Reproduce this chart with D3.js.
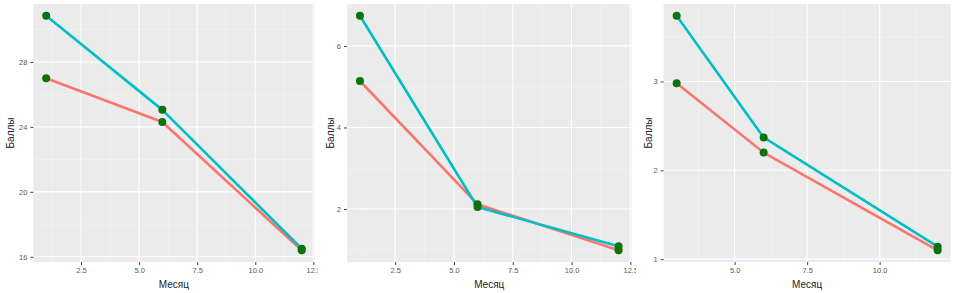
<!DOCTYPE html>
<html>
<head>
<meta charset="utf-8">
<script src="https://cdn.jsdelivr.net/npm/d3@7"></script>
<style>
  body { margin: 0; background: #fff; }
  svg { display: block; font-family: "Liberation Sans", Arial, sans-serif; }
  .tick text { fill: #595959; font-size: 7.5px; }
  .tick line { stroke: #444; }
  .title { fill: #222; font-size: 10px; }
</style>
</head>
<body>
<svg width="955" height="293"></svg>
<script>
// months per panel
const monthsA = [1, 6, 12];
const monthsB = [1, 6, 12];
const monthsC = [3, 6, 12];

// scores (red / cyan series)
const redA = [27.0, 24.3, 16.4];
const cyanA = [30.85, 25.05, 16.5];
const redB = [5.14, 2.12, 0.99];
const cyanB = [6.74, 2.05, 1.09];
const redC = [2.98, 2.20, 1.10];
const cyanC = [3.74, 2.37, 1.14];

// tick labels
const xTicksA = [2.5, 5, 7.5, 10, 12.5];
const xTicksB = [2.5, 5, 7.5, 10, 12.5];
const xTicksC = [5, 7.5, 10];
const yTicksA = [16, 20, 24, 28];
const yTicksB = [2, 4, 6];
const yTicksC = [1, 2, 3];

const xTitle = "Месяц";
const yTitle = "Баллы";

let panels = [
  {off: 0, left: 33.4, right: 314.5, titleX: 10, months: monthsA, red: redA, cyan: cyanA, xt: xTicksA, yt: yTicksA},
  {off: 318, left: 29, right: 313.5, titleX: 12, months: monthsB, red: redB, cyan: cyanB, xt: xTicksB, yt: yTicksB},
  {off: 636, left: 27.6, right: 314.7, titleX: 12, months: monthsC, red: redC, cyan: cyanC, xt: xTicksC, yt: yTicksC}
];

let plotTop = 4, plotBottom = 262;
let svg = d3.select("svg");

function expand(ext) {
  let pad = (ext[1] - ext[0]) * 0.05;
  return [ext[0] - pad, ext[1] + pad];
}

function midpoints(ticks, dom) {
  let step = ticks[1] - ticks[0];
  let out = [];
  for (let v = ticks[0] - step / 2; v <= dom[1]; v += step) {
    if (v >= dom[0]) out.push(v);
  }
  return out;
}

panels.forEach((p, i) => {
  svg.append("clipPath").attr("id", "clip" + i)
    .append("rect").attr("x", 0).attr("y", 0).attr("width", i < 2 ? 318 : 319).attr("height", 293);

  let g = svg.append("g")
      .attr("transform", "translate(" + p.off + ",0)")
      .attr("clip-path", "url(#clip" + i + ")");

  let x = d3.scaleLinear().domain(expand(d3.extent(p.months))).range([p.left, p.right]);
  let y = d3.scaleLinear().domain(expand(d3.extent(p.red.concat(p.cyan)))).range([plotBottom, plotTop]);

  g.append("rect")
    .attr("x", p.left).attr("y", plotTop)
    .attr("width", p.right - p.left).attr("height", plotBottom - plotTop)
    .attr("fill", "#ebebeb");

  // minor grid
  g.selectAll(".minx").data(midpoints(p.xt, x.domain())).enter().append("line")
    .attr("x1", d => x(d)).attr("x2", d => x(d)).attr("y1", plotTop).attr("y2", plotBottom)
    .attr("stroke", "#f5f5f5").attr("stroke-width", 0.6);
  g.selectAll(".miny").data(midpoints(p.yt, y.domain())).enter().append("line")
    .attr("y1", d => y(d)).attr("y2", d => y(d)).attr("x1", p.left).attr("x2", p.right)
    .attr("stroke", "#f5f5f5").attr("stroke-width", 0.6);

  // major grid
  g.selectAll(".majx").data(p.xt.filter(d => d <= x.domain()[1])).enter().append("line")
    .attr("x1", d => x(d)).attr("x2", d => x(d)).attr("y1", plotTop).attr("y2", plotBottom)
    .attr("stroke", "#fff").attr("stroke-width", 1.1);
  g.selectAll(".majy").data(p.yt).enter().append("line")
    .attr("y1", d => y(d)).attr("y2", d => y(d)).attr("x1", p.left).attr("x2", p.right)
    .attr("stroke", "#fff").attr("stroke-width", 1.1);

  // axes
  let ax = g.append("g")
      .attr("transform", "translate(0," + plotBottom + ")")
      .call(d3.axisBottom(x).tickValues(p.xt).tickFormat(d3.format(".1f")).tickSize(3).tickPadding(3));
  ax.select(".domain").remove();

  let ay = g.append("g")
      .attr("transform", "translate(" + p.left + ",0)")
      .call(d3.axisLeft(y).tickValues(p.yt).tickFormat(d3.format("d")).tickSize(3).tickPadding(3));
  ay.select(".domain").remove();

  g.append("text")
    .attr("class", "title")
    .attr("x", (p.left + p.right) / 2)
    .attr("y", 288)
    .attr("text-anchor", "middle")
    .text(xTitle);

  g.append("text")
    .attr("class", "title")
    .attr("transform", "translate(" + (p.titleX + 3.5) + "," + ((plotTop + plotBottom) / 2) + ") rotate(-90)")
    .attr("text-anchor", "middle")
    .text(yTitle);

  let line = d3.line().x(d => x(d[0])).y(d => y(d[1]));

  [["red", "#f8766d"], ["cyan", "#00bfc4"]].forEach(([key, col]) => {
    let pts = p.months.map((m, j) => [m, p[key][j]]);
    g.append("path")
      .datum(pts)
      .attr("d", line)
      .attr("fill", "none")
      .attr("stroke", col)
      .attr("stroke-width", 2.6)
      .attr("stroke-linejoin", "round");
  });

  let allPts = p.months.map((m, j) => [m, p.red[j]]).concat(p.months.map((m, j) => [m, p.cyan[j]]));
  g.selectAll(".point").data(allPts).enter().append("circle")
    .attr("cx", d => x(d[0]))
    .attr("cy", d => y(d[1]))
    .attr("r", 4)
    .attr("fill", "#0b730b");
});
</script>
</body>
</html>
